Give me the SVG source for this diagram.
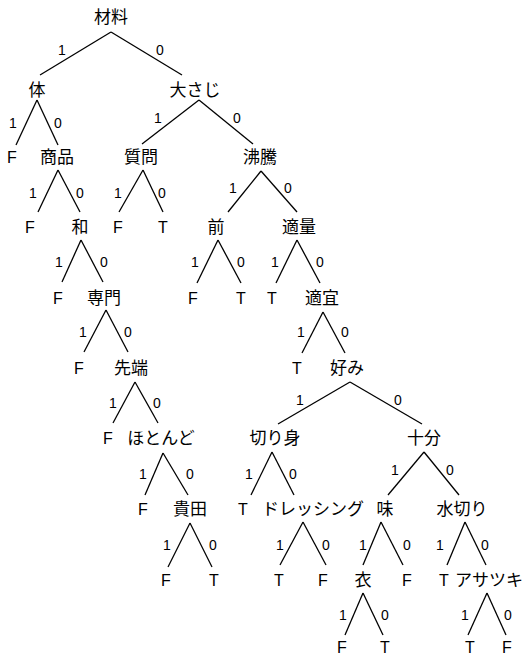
<svg xmlns="http://www.w3.org/2000/svg" width="522" height="656" viewBox="0 0 522 656">
<style>
.n{font-family:"Noto Sans CJK JP","Noto Sans",sans-serif;font-size:17px;text-anchor:middle;fill:#000}
.l{font-family:"Liberation Sans",sans-serif;font-size:16px;text-anchor:middle;fill:#000}
.e{font-family:"Liberation Sans",sans-serif;font-size:14px;text-anchor:middle;fill:#000}
#connectors line{stroke:#000;stroke-width:1.3;fill:none}
</style>
<rect width="522" height="656" fill="#fff"/>
<g id="connectors">
<line x1="111" y1="32" x2="40" y2="75"/><line x1="111" y1="32" x2="182" y2="75"/>
<text class="e" x="62" y="55">1</text><text class="e" x="160" y="55">0</text>
<line x1="37" y1="100" x2="16" y2="145"/><line x1="37" y1="100" x2="58" y2="145"/>
<text class="e" x="13" y="128">1</text><text class="e" x="58" y="128">0</text>
<line x1="199" y1="100" x2="142" y2="144"/><line x1="199" y1="100" x2="253" y2="144"/>
<text class="e" x="158" y="123">1</text><text class="e" x="237" y="123">0</text>
<line x1="58" y1="170" x2="38" y2="212"/><line x1="58" y1="170" x2="80" y2="212"/>
<text class="e" x="33" y="198">1</text><text class="e" x="80" y="198">0</text>
<line x1="143" y1="170" x2="119" y2="212"/><line x1="143" y1="170" x2="163" y2="212"/>
<text class="e" x="118" y="198">1</text><text class="e" x="162" y="198">0</text>
<line x1="261" y1="171" x2="228" y2="212"/><line x1="261" y1="171" x2="297" y2="212"/>
<text class="e" x="233" y="193">1</text><text class="e" x="288" y="193">0</text>
<line x1="81" y1="240" x2="62" y2="282"/><line x1="81" y1="240" x2="103" y2="282"/>
<text class="e" x="59" y="267">1</text><text class="e" x="104" y="267">0</text>
<line x1="218" y1="240" x2="197" y2="283"/><line x1="218" y1="240" x2="241" y2="283"/>
<text class="e" x="195" y="267">1</text><text class="e" x="241" y="267">0</text>
<line x1="297" y1="240" x2="276" y2="283"/><line x1="297" y1="240" x2="320" y2="283"/>
<text class="e" x="275" y="267">1</text><text class="e" x="320" y="267">0</text>
<line x1="106" y1="310" x2="84" y2="352"/><line x1="106" y1="310" x2="128" y2="352"/>
<text class="e" x="83" y="337">1</text><text class="e" x="128" y="337">0</text>
<line x1="323" y1="312" x2="302" y2="353"/><line x1="323" y1="312" x2="345" y2="353"/>
<text class="e" x="301" y="337">1</text><text class="e" x="345" y="337">0</text>
<line x1="135" y1="382" x2="113" y2="423"/><line x1="135" y1="382" x2="158" y2="423"/>
<text class="e" x="113" y="408">1</text><text class="e" x="157" y="408">0</text>
<line x1="350" y1="382" x2="278" y2="424"/><line x1="350" y1="382" x2="422" y2="424"/>
<text class="e" x="300" y="405">1</text><text class="e" x="398" y="405">0</text>
<line x1="163" y1="453" x2="145" y2="495"/><line x1="163" y1="453" x2="188" y2="495"/>
<text class="e" x="143" y="479">1</text><text class="e" x="190" y="479">0</text>
<line x1="272" y1="452" x2="251" y2="495"/><line x1="272" y1="452" x2="294" y2="495"/>
<text class="e" x="249" y="479">1</text><text class="e" x="293" y="479">0</text>
<line x1="424" y1="452" x2="388" y2="495"/><line x1="424" y1="452" x2="459" y2="495"/>
<text class="e" x="395" y="475">1</text><text class="e" x="450" y="475">0</text>
<line x1="190" y1="523" x2="168" y2="567"/><line x1="190" y1="523" x2="212" y2="567"/>
<text class="e" x="167" y="550">1</text><text class="e" x="213" y="550">0</text>
<line x1="303" y1="522" x2="280" y2="565"/><line x1="303" y1="522" x2="326" y2="565"/>
<text class="e" x="280" y="550">1</text><text class="e" x="326" y="550">0</text>
<line x1="381" y1="522" x2="363" y2="565"/><line x1="381" y1="522" x2="403" y2="565"/>
<text class="e" x="363" y="550">1</text><text class="e" x="407" y="550">0</text>
<line x1="465" y1="522" x2="447" y2="565"/><line x1="465" y1="522" x2="486" y2="565"/>
<text class="e" x="440" y="550">1</text><text class="e" x="485" y="550">0</text>
<line x1="363" y1="593" x2="345" y2="635"/><line x1="363" y1="593" x2="383" y2="635"/>
<text class="e" x="343" y="620">1</text><text class="e" x="385" y="620">0</text>
<line x1="487" y1="593" x2="468" y2="635"/><line x1="487" y1="593" x2="506" y2="635"/>
<text class="e" x="465" y="620">1</text><text class="e" x="508" y="620">0</text>
</g>
<g id="n-zairyo"><text class="n" x="111" y="23">材料</text></g>
<g id="n-karada"><text class="n" x="37" y="96">体</text></g>
<g id="n-ookisaji"><text class="n" x="195" y="96">大さじ</text></g>
<g id="leaf-1"><text class="l" x="12" y="163">F</text></g>
<g id="n-shohin"><text class="n" x="57" y="163">商品</text></g>
<g id="n-shitsumon"><text class="n" x="141" y="163">質問</text></g>
<g id="n-futto"><text class="n" x="260" y="163">沸騰</text></g>
<g id="leaf-2"><text class="l" x="30" y="233">F</text></g>
<g id="n-wa"><text class="n" x="80" y="233">和</text></g>
<g id="leaf-3"><text class="l" x="118" y="233">F</text></g>
<g id="leaf-4"><text class="l" x="163" y="233">T</text></g>
<g id="n-mae"><text class="n" x="216" y="233">前</text></g>
<g id="n-tekiryo"><text class="n" x="299" y="233">適量</text></g>
<g id="leaf-5"><text class="l" x="58" y="304">F</text></g>
<g id="n-senmon"><text class="n" x="104" y="304">専門</text></g>
<g id="leaf-6"><text class="l" x="193" y="304">F</text></g>
<g id="leaf-7"><text class="l" x="241" y="304">T</text></g>
<g id="leaf-8"><text class="l" x="272" y="304">T</text></g>
<g id="n-tekigi"><text class="n" x="322" y="304">適宜</text></g>
<g id="leaf-9"><text class="l" x="79" y="374">F</text></g>
<g id="n-sentan"><text class="n" x="131" y="374">先端</text></g>
<g id="leaf-10"><text class="l" x="297" y="374">T</text></g>
<g id="n-konomi"><text class="n" x="347" y="374">好み</text></g>
<g id="leaf-11"><text class="l" x="108" y="444">F</text></g>
<g id="n-hotondo"><text class="n" x="161" y="444">ほとんど</text></g>
<g id="n-kirimi"><text class="n" x="275" y="444">切り身</text></g>
<g id="n-juubun"><text class="n" x="424" y="444">十分</text></g>
<g id="leaf-12"><text class="l" x="143" y="515">F</text></g>
<g id="n-kida"><text class="n" x="190" y="515">貴田</text></g>
<g id="leaf-13"><text class="l" x="243" y="515">T</text></g>
<g id="n-dressing"><text class="n" x="313" y="515">ドレッシング</text></g>
<g id="n-aji"><text class="n" x="385" y="515">味</text></g>
<g id="n-mizukiri"><text class="n" x="462" y="515">水切り</text></g>
<g id="leaf-14"><text class="l" x="166" y="586">F</text></g>
<g id="leaf-15"><text class="l" x="214" y="586">T</text></g>
<g id="leaf-16"><text class="l" x="279" y="586">T</text></g>
<g id="leaf-17"><text class="l" x="323" y="586">F</text></g>
<g id="n-koromo"><text class="n" x="363" y="586">衣</text></g>
<g id="leaf-18"><text class="l" x="407" y="586">F</text></g>
<g id="leaf-19"><text class="l" x="444" y="586">T</text></g>
<g id="n-asatsuki"><text class="n" x="489" y="586">アサツキ</text></g>
<g id="leaf-20"><text class="l" x="342" y="653">F</text></g>
<g id="leaf-21"><text class="l" x="385" y="653">T</text></g>
<g id="leaf-22"><text class="l" x="470" y="653">T</text></g>
<g id="leaf-23"><text class="l" x="507" y="653">F</text></g>
</svg>
